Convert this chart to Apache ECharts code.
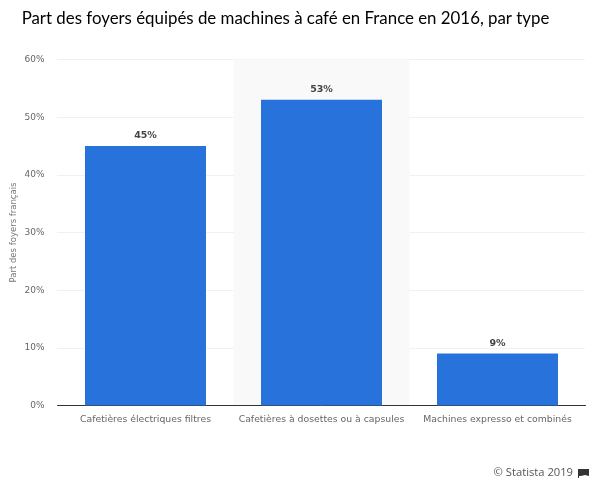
<!DOCTYPE html>
<html><head><meta charset="utf-8">
<style>html,body{margin:0;padding:0;background:#fff}#c{width:600px;height:487px}</style>
<script src="https://cdn.jsdelivr.net/npm/echarts@6/dist/echarts.min.js"></script>
</head><body><div id="c"></div>
<script>
const titleText = 'Part des foyers équipés de machines à café en France en 2016, par type';
const categories = ['Cafetières électriques filtres', 'Cafetières à dosettes ou à capsules', 'Machines expresso et combinés'];
const shares = [45, 53, 9];
const yAxisName = 'Part des foyers français';
const credit = '© Statista 2019';

const chart = echarts.init(document.getElementById('c'), null, {renderer: 'canvas'});
chart.setOption({
  animation: false,
  backgroundColor: '#fff',
  textStyle: {fontFamily: 'Roboto'},
  title: {
    text: titleText, left: 280.5, top: 5, textAlign: 'center',
    textStyle: {fontFamily: 'Lato', fontSize: 16.85, fontWeight: 'normal', color: '#000'}
  },
  grid: {left: 57.5, right: 14.5, top: 59.5, bottom: 81.5, outerBoundsMode: 'none'},
  xAxis: {
    type: 'category', data: categories,
    axisTick: {show: false},
    axisLine: {lineStyle: {color: '#333', width: 1}},
    axisLabel: {color: '#666', fontSize: 9.3, fontFamily: 'DejaVu Sans', margin: 10, interval: 0},
    splitArea: {show: true, areaStyle: {color: ['rgba(255,255,255,0)', '#f9f9f9']}}
  },
  yAxis: {
    type: 'value', min: 0, max: 60, interval: 10,
    name: yAxisName, nameLocation: 'middle', nameGap: 39, nameMoveOverlap: false,
    nameTextStyle: {color: '#777', fontSize: 8.5, fontFamily: 'DejaVu Sans'},
    axisLine: {show: false}, axisTick: {show: false},
    axisLabel: {color: '#666', fontSize: 9, fontFamily: 'DejaVu Sans', margin: 13, formatter: '{value}%'},
    splitLine: {lineStyle: {color: '#e2e2e2', type: 'dotted', width: 1}}
  },
  series: [{
    type: 'bar', data: shares, barWidth: 121,
    itemStyle: {color: '#2872dc'},
    label: {show: true, position: 'top', distance: 5, formatter: '{c}%', color: '#444', fontWeight: 'bold', fontSize: 9.5, fontFamily: 'DejaVu Sans'}
  }],
  graphic: [
    {type: 'text', right: 27, top: 467, style: {text: credit, fill: '#555', font: '11.2px "Open Sans"'}},
    {type: 'polygon', shape: {points: [[578,469],[589,469],[589,476],[585,475],[581,476],[579,476],[579,478],[578,478]]}, style: {fill: '#333'}}
  ]
});
</script></body></html>
